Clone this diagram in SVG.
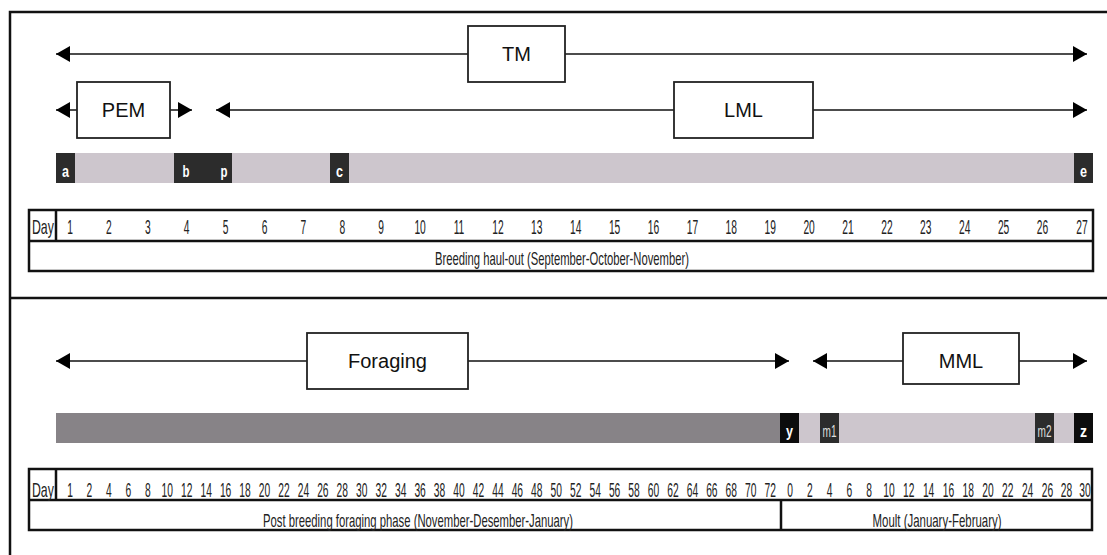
<svg xmlns="http://www.w3.org/2000/svg" width="1107" height="555" viewBox="0 0 1107 555">
<style>
.frame{fill:none;stroke:#111;stroke-width:2.5}
.conn{fill:none;stroke:#111;stroke-width:1.6;marker-start:url(#ah);marker-end:url(#ah)}
.box{fill:#fff;stroke:#222;stroke-width:1.8}
.lbl{font-family:"Liberation Sans",Arial,sans-serif;font-size:20px;fill:#111;text-anchor:middle}
.tbl{fill:none;stroke:#111;stroke-width:2.5}
.num{font-family:"Liberation Sans",Arial,sans-serif;font-size:20.5px;fill:#222;text-anchor:middle}
.day{font-family:"Liberation Sans",Arial,sans-serif;font-size:20.5px;fill:#222}
.cap{font-family:"Liberation Sans",Arial,sans-serif;font-size:18.5px;fill:#222;text-anchor:middle}
.light{fill:#cdc6cd}
.darkbar{fill:#878387}
.mk{fill:#2c2c2c}
.mkb{fill:#0c0c0c}
.mkt{font-family:"Liberation Sans",Arial,sans-serif;font-size:17px;font-weight:bold;fill:#fff;text-anchor:middle}
.mkg{font-family:"Liberation Sans",Arial,sans-serif;font-size:17px;fill:#ddd;text-anchor:middle}
</style>
<defs>
<marker id="ah" markerUnits="userSpaceOnUse" markerWidth="14" markerHeight="16" refX="14" refY="8" orient="auto-start-reverse">
<path d="M0,0 L14,8 L0,16 z" fill="#000"/>
</marker>
</defs>
<rect x="0" y="0" width="1107" height="555" fill="#fff"/>
<g id="frame">
<path class="frame" d="M10,555 V12 H1107"/>
<path class="frame" d="M10,298 H1107"/>
</g>
<g id="connectors">
<path class="conn" d="M56,54 H1087"/>
<path class="conn" d="M56,110 H192"/>
<path class="conn" d="M216,110 H1087"/>
<path class="conn" d="M56,361 H789"/>
<path class="conn" d="M813,361 H1087"/>
</g>
<g id="node-tm"><rect class="box" x="468" y="26" width="97" height="56"/><text class="lbl" x="516.5" y="61">TM</text></g>
<g id="node-pem"><rect class="box" x="77" y="82" width="93" height="56"/><text class="lbl" x="123.5" y="117">PEM</text></g>
<g id="node-lml"><rect class="box" x="674" y="82" width="139" height="56"/><text class="lbl" x="743.5" y="117">LML</text></g>
<g id="node-foraging"><rect class="box" x="307" y="333" width="161" height="56"/><text class="lbl" x="387.5" y="368">Foraging</text></g>
<g id="node-mml"><rect class="box" x="903" y="333" width="116" height="51"/><text class="lbl" x="961" y="368">MML</text></g>
<g id="bar-breeding">
<rect class="light" x="56" y="153" width="1037" height="30"/>
<rect class="mk" x="56" y="153" width="19" height="30"/><text class="mkt" x="65.5" y="177" textLength="7" lengthAdjust="spacingAndGlyphs">a</text>
<rect class="mk" x="174" y="153" width="58" height="30"/><text class="mkt" x="186" y="177" textLength="7" lengthAdjust="spacingAndGlyphs">b</text><text class="mkt" x="224" y="177" textLength="7" lengthAdjust="spacingAndGlyphs">p</text>
<rect class="mk" x="330" y="153" width="19" height="30"/><text class="mkt" x="339.5" y="177" textLength="7" lengthAdjust="spacingAndGlyphs">c</text>
<rect class="mk" x="1074" y="153" width="19" height="30"/><text class="mkt" x="1083.5" y="177" textLength="7" lengthAdjust="spacingAndGlyphs">e</text>
</g>
<g id="bar-postbreeding">
<rect class="darkbar" x="56" y="413" width="724" height="30"/>
<rect class="light" x="799" y="413" width="275" height="30"/>
<rect class="mkb" x="780" y="413" width="19" height="30"/><text class="mkt" x="789.5" y="437" textLength="7" lengthAdjust="spacingAndGlyphs">y</text>
<rect class="mk" x="820" y="413" width="19" height="30"/><text class="mkg" x="829.5" y="437" textLength="14" lengthAdjust="spacingAndGlyphs">m1</text>
<rect class="mk" x="1035" y="413" width="19" height="30"/><text class="mkg" x="1044.5" y="437" textLength="14" lengthAdjust="spacingAndGlyphs">m2</text>
<rect class="mkb" x="1074" y="413" width="19" height="30"/><text class="mkt" x="1083.5" y="437" textLength="7" lengthAdjust="spacingAndGlyphs">z</text>
</g>
<g id="table-breeding">
<rect class="tbl" x="29" y="210" width="1064" height="61"/>
<path class="tbl" d="M29,241 H1093 M56,210 V241"/>
<text class="day" transform="scale(0.6,1)" x="53.3" y="234">Day</text>
<g class="num" transform="scale(0.5,1)">
<text x="140" y="234">1</text>
<text x="217.8" y="234">2</text>
<text x="295.6" y="234">3</text>
<text x="373.4" y="234">4</text>
<text x="451.2" y="234">5</text>
<text x="529" y="234">6</text>
<text x="606.8" y="234">7</text>
<text x="684.6" y="234">8</text>
<text x="762.4" y="234">9</text>
<text x="840.2" y="234">10</text>
<text x="918" y="234">11</text>
<text x="995.8" y="234">12</text>
<text x="1073.6" y="234">13</text>
<text x="1151.4" y="234">14</text>
<text x="1229.2" y="234">15</text>
<text x="1307" y="234">16</text>
<text x="1384.8" y="234">17</text>
<text x="1462.6" y="234">18</text>
<text x="1540.4" y="234">19</text>
<text x="1618.2" y="234">20</text>
<text x="1696" y="234">21</text>
<text x="1773.8" y="234">22</text>
<text x="1851.6" y="234">23</text>
<text x="1929.4" y="234">24</text>
<text x="2007.2" y="234">25</text>
<text x="2085" y="234">26</text>
<text x="2164" y="234">27</text>
</g>
<text class="cap" x="562" y="265" textLength="254" lengthAdjust="spacingAndGlyphs">Breeding haul-out (September-October-November)</text>
</g>
<g id="table-postbreeding">
<rect class="tbl" x="29" y="469" width="1063" height="61"/>
<path class="tbl" d="M29,500 H1092 M56,469 V500 M781,500 V530"/>
<text class="day" transform="scale(0.6,1)" x="53.3" y="497">Day</text>
<g class="num" transform="scale(0.5,1)">
<text x="140" y="497">1</text>
<text x="178.9" y="497">2</text>
<text x="217.8" y="497">4</text>
<text x="256.7" y="497">6</text>
<text x="295.6" y="497">8</text>
<text x="334.5" y="497">10</text>
<text x="373.4" y="497">12</text>
<text x="412.3" y="497">14</text>
<text x="451.2" y="497">16</text>
<text x="490.1" y="497">18</text>
<text x="529" y="497">20</text>
<text x="567.9" y="497">22</text>
<text x="606.8" y="497">24</text>
<text x="645.7" y="497">26</text>
<text x="684.6" y="497">28</text>
<text x="723.5" y="497">30</text>
<text x="762.4" y="497">32</text>
<text x="801.3" y="497">34</text>
<text x="840.2" y="497">36</text>
<text x="879.1" y="497">38</text>
<text x="918" y="497">40</text>
<text x="956.9" y="497">42</text>
<text x="995.8" y="497">44</text>
<text x="1034.7" y="497">46</text>
<text x="1073.6" y="497">48</text>
<text x="1112.5" y="497">50</text>
<text x="1151.4" y="497">52</text>
<text x="1190.3" y="497">54</text>
<text x="1229.2" y="497">56</text>
<text x="1268.1" y="497">58</text>
<text x="1307" y="497">60</text>
<text x="1345.9" y="497">62</text>
<text x="1384.8" y="497">64</text>
<text x="1423.7" y="497">66</text>
<text x="1462.6" y="497">68</text>
<text x="1501.5" y="497">70</text>
<text x="1540.4" y="497">72</text>
<text x="1580" y="497">0</text>
<text x="1619.6" y="497">2</text>
<text x="1659.2" y="497">4</text>
<text x="1698.8" y="497">6</text>
<text x="1738.4" y="497">8</text>
<text x="1778" y="497">10</text>
<text x="1817.6" y="497">12</text>
<text x="1857.2" y="497">14</text>
<text x="1896.8" y="497">16</text>
<text x="1936.4" y="497">18</text>
<text x="1976" y="497">20</text>
<text x="2015.6" y="497">22</text>
<text x="2055.2" y="497">24</text>
<text x="2094.8" y="497">26</text>
<text x="2133" y="497">28</text>
<text x="2170" y="497">30</text>
</g>
<text class="cap" x="418" y="527" textLength="310" lengthAdjust="spacingAndGlyphs">Post breeding foraging phase (November-Desember-January)</text>
<text class="cap" x="937" y="527" textLength="129" lengthAdjust="spacingAndGlyphs">Moult (January-February)</text>
</g>
</svg>
